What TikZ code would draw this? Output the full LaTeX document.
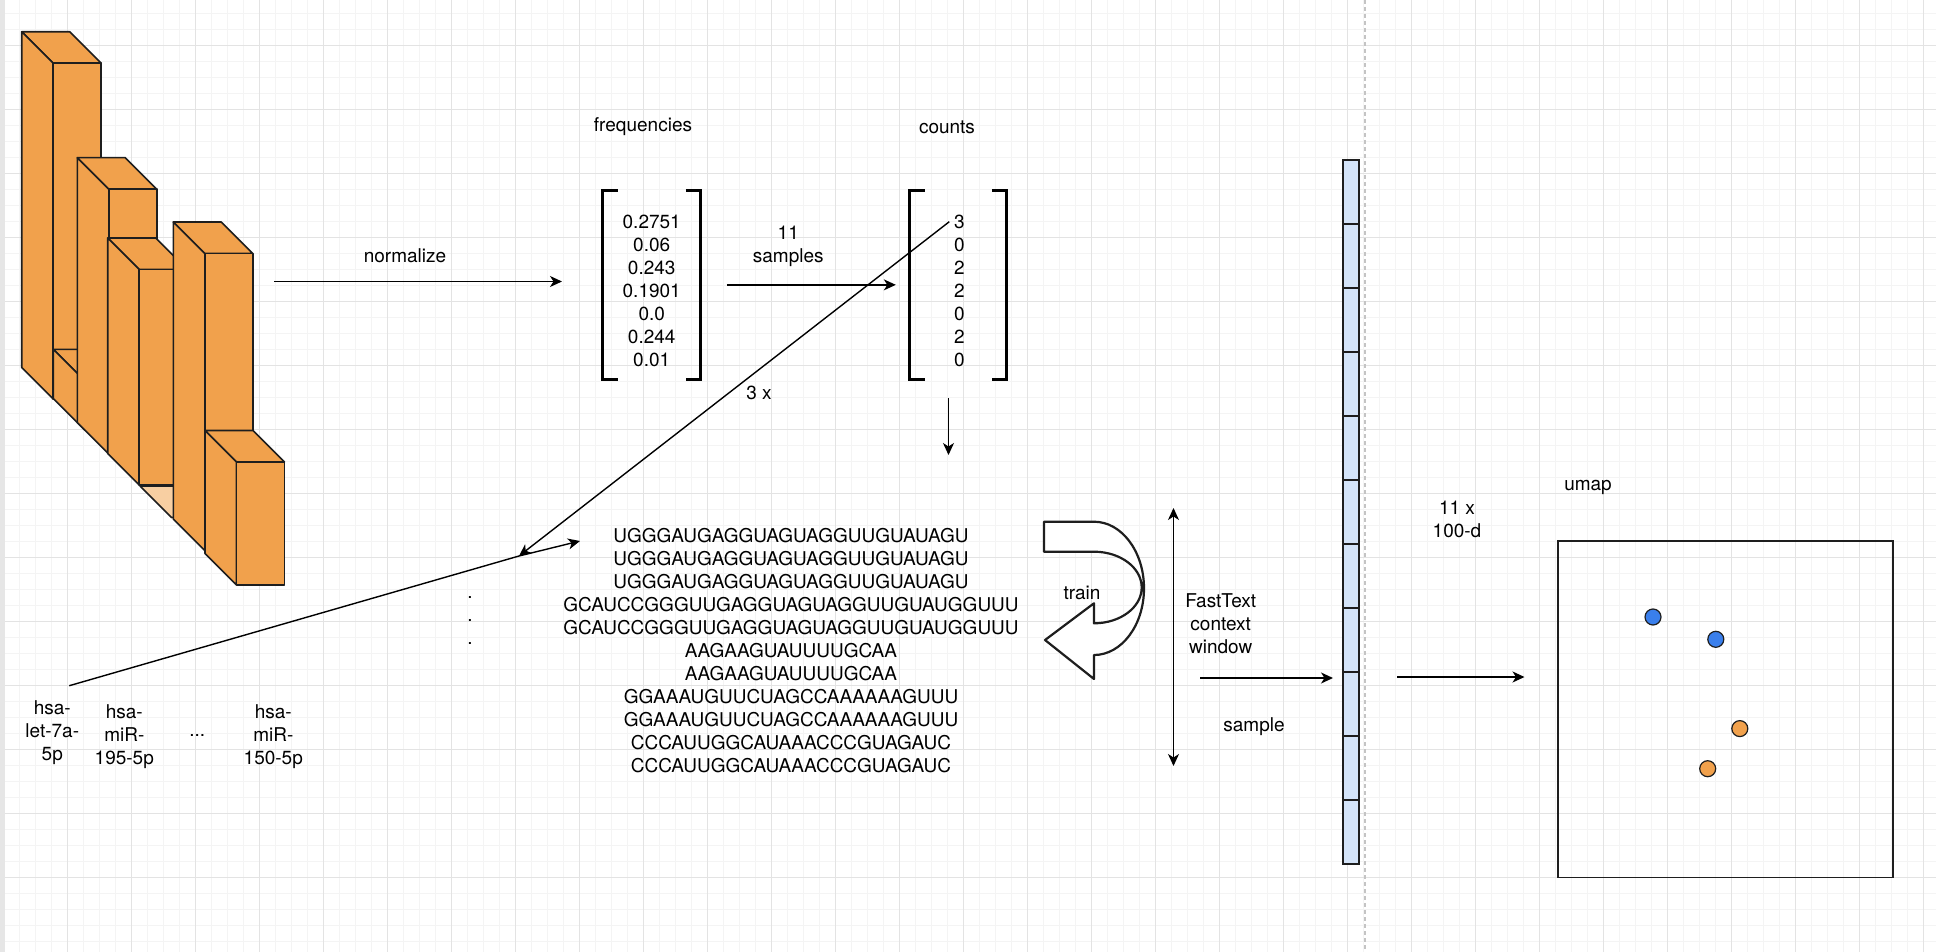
\documentclass[tikz,border=0pt]{standalone}
\usepackage{fontspec}
\setmainfont{TeX Gyre Heros}
\usetikzlibrary{arrows.meta}
\definecolor{barorange}{HTML}{F1A14C}
\definecolor{barlight}{HTML}{F8CFA2}
\definecolor{vecblue}{HTML}{D4E4F9}
\definecolor{dotblue}{HTML}{3A7FEC}
\definecolor{gridminor}{HTML}{F4F4F4}
\definecolor{gridmajor}{HTML}{E3E3E3}
\definecolor{stripgray}{HTML}{E6E6E6}
\definecolor{sepgray}{HTML}{C4C4C4}
\definecolor{ink}{HTML}{1E1E1E}
\tikzset{
  lbl/.style={inner sep=0pt, align=center, font=\fontsize{19}{23}\selectfont},
  tipshape/.style={Stealth[length=12pt,width=11pt,inset=3.5pt]},
  arr/.style={draw=black, line width=1.4pt, -{Stealth[length=12pt,width=11pt,inset=3.5pt]}},
  dblarr/.style={draw=black, line width=1.4pt, {Stealth[length=12pt,width=11pt,inset=3.5pt]}-{Stealth[length=12pt,width=11pt,inset=3.5pt]}},
  bracketline/.style={draw=black, line width=3pt},
  bracketbox/.style={inner sep=0pt, minimum height=188.3pt},
  cubeface/.style={fill=barorange, draw=ink, line width=1.6pt, line join=round},
  vecbox/.style={draw=ink, fill=vecblue, line width=2pt, minimum width=16pt, minimum height=704pt, inner sep=0pt},
  umapbox/.style={draw=ink, line width=1.5pt, minimum width=335pt, minimum height=336.5pt, inner sep=0pt},
  umapdot/.style={circle, draw=ink, line width=1.2pt, minimum size=16pt, inner sep=0pt},
  trainarrow/.style={draw=ink, fill=white, line width=2.2pt, line join=round},
  minorline/.style={draw=gridminor, line width=1pt},
  majorline/.style={draw=gridmajor, line width=1.2pt},
  sepline/.style={draw=sepgray, line width=1.5pt, dash pattern=on 4pt off 3pt}
}
\newcommand\cubebar[3]{%
  \filldraw[cubeface] (#1,#2) -- ++(48,0) -- ++(31.5,31.5) -- ++(-48,0) -- cycle;
  \filldraw[cubeface] (#1,#2) -- ++(31.5,31.5) -- ({#1+31.5},{#3+31.5}) -- (#1,#3) -- cycle;
  \filldraw[cubeface] ({#1+31.5},{#2+31.5}) rectangle ({#1+79.5},{#3+31.5});
}
\newcommand\bracketpair[1]{%
  \draw[bracketline] ([xshift=15pt]#1.north west) -- (#1.north west) -- (#1.south west) -- ([xshift=15pt]#1.south west);
  \draw[bracketline] ([xshift=-15pt]#1.north east) -- (#1.north east) -- (#1.south east) -- ([xshift=-15pt]#1.south east);
}
\begin{document}
\begin{tikzpicture}[x=1pt,y=-1pt]
\useasboundingbox (0,0) rectangle (1936,952);
% background and grid
\fill[white] (0,0) rectangle (1936,952);
\foreach \gx in {0,...,121} \draw[minorline] ({3.3+16*\gx},0) -- ({3.3+16*\gx},952);
\foreach \gy in {0,...,59} \draw[minorline] (0,{13.3+16*\gy}) -- (1936,{13.3+16*\gy});
\foreach \gx in {0,...,30} \draw[majorline] ({3.3+64*\gx},0) -- ({3.3+64*\gx},952);
\foreach \gy in {1,...,14} \draw[majorline] (0,{-18.7+64*\gy}) -- (1936,{-18.7+64*\gy});
\fill[stripgray] (0,0) rectangle (5,952);
% dashed separator
\coordinate (septop) at (1365,0);
\coordinate (sepbot) at (1365,952);
\draw[sepline] (septop) -- (sepbot);

% 3D bars
\cubebar{21.7}{31.8}{367.4}
\cubebar{53.3}{349.4}{398.5}
\cubebar{77.3}{157.7}{422.5}
\cubebar{107.7}{238}{453.5}
\filldraw[cubeface, fill=barlight] (140,486) -- ++(48,0) -- ++(31.5,31.5) -- ++(-48,0) -- cycle;
\cubebar{173.3}{222}{519}
\cubebar{205}{430.5}{553.5}

% normalize
\coordinate (normstart) at (274,281.5);
\coordinate (normend) at (562,281.5);
\draw[arr] (normstart) -- (normend);
\node[lbl] (normlbl) at (405,255.6) {normalize};

% frequency vector
\node[bracketbox, minimum width=98pt] (freq) at (651.7,284.85) {};
\bracketpair{freq}
\node[lbl] (freqvals) at (651.7,290.5) {0.2751\\0.06\\0.243\\0.1901\\0.0\\0.244\\0.01};
\node[lbl] (freqtitle) at (643,127) {frequencies};

% counts vector
\node[bracketbox, minimum width=96.7pt] (counts) at (958.35,284.85) {};
\bracketpair{counts}
\node[lbl] (countvals) at (959.3,290.5) {3\\0\\2\\2\\0\\2\\0};
\node[lbl] (counttitle) at (947,127) {counts};

% 11 samples
\draw[arr] ([xshift=26pt]freq.east) -- ([xshift=-14pt]counts.west);
\node[lbl] (samplbl) at (788.3,246) {11\\samples};

% labels of miRNAs
\node[lbl] (let7) at (52.3,733) {hsa-\\let-7a-\\5p};
\node[lbl] (mir195) at (124.3,737) {hsa-\\miR-\\195-5p};
\node[lbl, anchor=base] (hdots) at (197.3,736.5) {...};
\node[lbl] (mir150) at (273.3,737) {hsa-\\miR-\\150-5p};

% sequences
\node[lbl] (seqs) at (791,651) {UGGGAUGAGGUAGUAGGUUGUAUAGU\\UGGGAUGAGGUAGUAGGUUGUAUAGU\\UGGGAUGAGGUAGUAGGUUGUAUAGU\\GCAUCCGGGUUGAGGUAGUAGGUUGUAUGGUUU\\GCAUCCGGGUUGAGGUAGUAGGUUGUAUGGUUU\\AAGAAGUAUUUUGCAA\\AAGAAGUAUUUUGCAA\\GGAAAUGUUCUAGCCAAAAAAGUUU\\GGAAAUGUUCUAGCCAAAAAAGUUU\\CCCAUUGGCAUAAACCCGUAGAUC\\CCCAUUGGCAUAAACCCGUAGAUC};
\node[lbl] (vdots) at (470,620.5) {.\\.\\.};

% connectors to sequences
\coordinate (let7top) at (69.3,685.7);
\coordinate (junction) at (519,556);
\coordinate (seqin) at (580,541);
\coordinate (three) at (949.3,221.7);
\draw[arr] (let7top) -- (junction) -- (seqin);
\draw[arr] (three) -- (junction);
\node[lbl] (threex) at (759,393) {3 x};

% down arrow under counts
\coordinate (cdowna) at (948.5,398);
\coordinate (cdownb) at (948.5,455);
\draw[arr] (cdowna) -- (cdownb);

% train u-turn arrow
\draw[trainarrow] (1044,521.7) -- (1094,521.7)
  arc[start angle=-90, end angle=90, x radius=50, y radius=66.65]
  -- (1094,679) -- (1045,640) -- (1094,603.3) -- (1094,623.3)
  arc[start angle=90, end angle=-90, x radius=47.7, y radius=35.8]
  -- (1044,551.7) -- cycle;
\node[lbl] (trainlbl) at (1082,593) {train};

% FastText context window
\coordinate (ctxtop) at (1173.5,508);
\coordinate (ctxbot) at (1173.5,766);
\draw[dblarr] (ctxtop) -- (ctxbot);
\node[lbl] (ftlbl) at (1220.7,623.5) {FastText\\context\\window};
\node[lbl] (samplelbl) at (1254,727) {sample};

% embedding vector
\node[vecbox] (vec) at (1351,512) {};
\foreach \i in {1,...,10} \draw[draw=ink, line width=2pt] (1343,{160+64*\i}) -- (1359,{160+64*\i});
\coordinate (ftout) at (1200,678);
\coordinate (vecin) at (1333,678);
\draw[arr] (ftout) -- (vecin);

% to umap
\coordinate (vecout) at (1397,677);
\coordinate (umapin) at (1524.5,677);
\draw[arr] (vecout) -- (umapin);
\node[lbl] (dimlbl) at (1457,519.5) {11 x\\100-d};

% umap plot
\node[umapbox] (umap) at (1725.5,709.25) {};
\node[lbl] (umaplbl) at (1588,487) {umap};
\node[umapdot, fill=dotblue] (bdot1) at (1653,617) {};
\node[umapdot, fill=dotblue] (bdot2) at (1715.8,639.3) {};
\node[umapdot, fill=barorange] (odot1) at (1739.8,728.6) {};
\node[umapdot, fill=barorange] (odot2) at (1707.7,768.7) {};
\end{tikzpicture}
\end{document}
